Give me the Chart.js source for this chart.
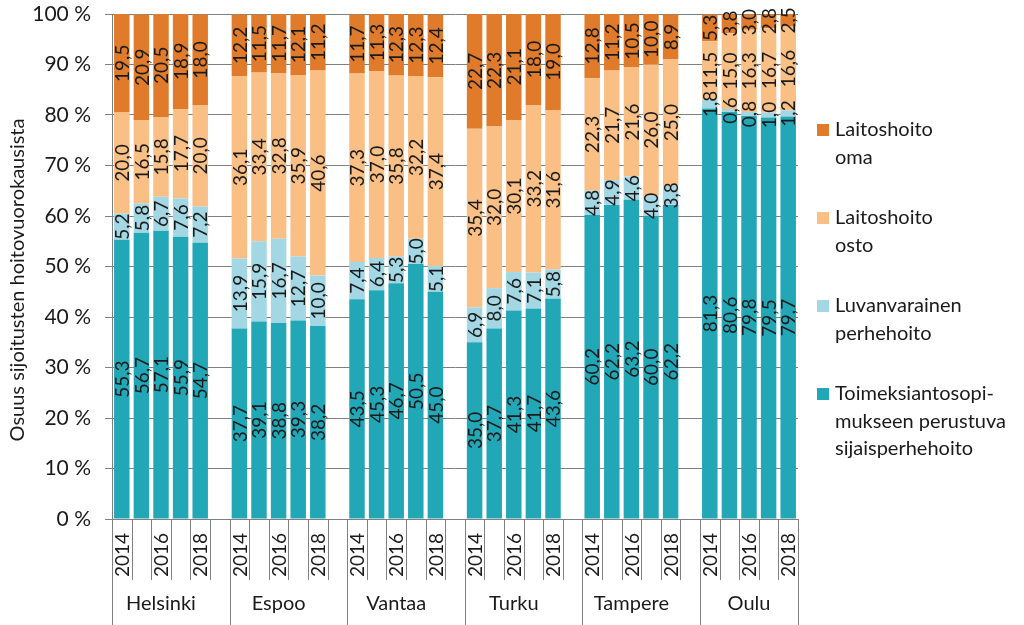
<!DOCTYPE html>
<html>
<head>
<meta charset="utf-8">
<script src="https://cdn.jsdelivr.net/npm/chart.js@4/dist/chart.umd.min.js"></script>
<style>
  html, body { margin: 0; padding: 0; background: #fff; }
  #wrap { width: 1024px; height: 625px; }
</style>
</head>
<body>
<div id="wrap"><canvas id="myChart" width="1024" height="625"></canvas></div>
<script>
// data, city by city, years 2014-2018
const cities = ['Helsinki', 'Espoo', 'Vantaa', 'Turku', 'Tampere', 'Oulu'];
const years = ['2014', '2015', '2016', '2017', '2018'];

const toimeksianto = [55.3, 56.7, 57.1, 55.9, 54.7, 37.7, 39.1, 38.8, 39.3, 38.2, 43.5, 45.3, 46.7, 50.5, 45.0,
    35.0, 37.7, 41.3, 41.7, 43.6, 60.2, 62.2, 63.2, 60.0, 62.2, 81.3, 80.6, 79.8, 79.5, 79.7];
const luvanvarainen = [5.2, 5.8, 6.7, 7.6, 7.2, 13.9, 15.9, 16.7, 12.7, 10.0, 7.4, 6.4, 5.3, 5.0, 5.1,
    6.9, 8.0, 7.6, 7.1, 5.8, 4.8, 4.9, 4.6, 4.0, 3.8, 1.8, 0.6, 0.8, 1.0, 1.2];
const osto = [20.0, 16.5, 15.8, 17.7, 20.0, 36.1, 33.4, 32.8, 35.9, 40.6, 37.3, 37.0, 35.8, 32.2, 37.4,
    35.4, 32.0, 30.1, 33.2, 31.6, 22.3, 21.7, 21.6, 26.0, 25.0, 11.5, 15.0, 16.3, 16.7, 16.6];
const oma = [19.5, 20.9, 20.5, 18.9, 18.0, 12.2, 11.5, 11.7, 12.1, 11.2, 11.7, 11.3, 12.3, 12.3, 12.4,
    22.7, 22.3, 21.1, 18.0, 19.0, 12.8, 11.2, 10.5, 10.0, 8.9, 5.3, 3.8, 3.0, 2.8, 2.5];

const seriesNames = [
    ['Toimeksiantosopi-', 'mukseen perustuva', 'sijaisperhehoito'],
    ['Luvanvarainen', 'perhehoito'],
    ['Laitoshoito', 'osto'],
    ['Laitoshoito', 'oma']
];
const yTitle = 'Osuus sijoitusten hoitovuorokausista';
const colors = ['#22a7b7', '#a3d7e3', '#f9bf85', '#df7b2b'];

const FONT = 'Lato, "Open Sans", sans-serif';
const GRID = '#808080';
const TEXT = '#1a1a1a';

// one slot per year, an empty slot between cities
let labels = [], slotCity = [], slotYear = [];
cities.forEach((c, ci) => {
    years.forEach((y, yi) => { labels.push(c + ' ' + y); slotCity.push(ci); slotYear.push(yi); });
    if (ci < cities.length - 1) { labels.push(''); slotCity.push(ci); slotYear.push(-1); }
});
function toSlots(arr) {
    return slotYear.map((yi, i) => yi < 0 ? null : arr[slotCity[i] * years.length + yi]);
}

const fmt = v => v.toFixed(1).replace('.', ',');

const valueLabels = {
    id: 'valueLabels',
    afterDatasetsDraw(chart) {
        const ctx = chart.ctx;
        ctx.save();
        ctx.font = '19px ' + FONT;
        ctx.fillStyle = TEXT;
        ctx.textAlign = 'center';
        ctx.textBaseline = 'middle';
        chart.data.datasets.forEach((ds, di) => {
            chart.getDatasetMeta(di).data.forEach((bar, i) => {
                const v = ds.data[i];
                if (v === null || v === undefined) return;
                const cy = (bar.y + bar.base) / 2;
                ctx.save();
                ctx.translate(bar.x, cy);
                ctx.rotate(-Math.PI / 2);
                ctx.fillText(fmt(v), 0, 1);
                ctx.restore();
            });
        });
        ctx.restore();
    }
};

const catAxis = {
    id: 'catAxis',
    afterDraw(chart) {
        const ctx = chart.ctx, xs = chart.scales.x, area = chart.chartArea;
        const half = (xs.getPixelForValue(1) - xs.getPixelForValue(0)) / 2;
        const y0 = area.bottom;
        ctx.save();
        ctx.strokeStyle = GRID;
        ctx.lineWidth = 1;
        ctx.beginPath();
        ctx.moveTo(area.left, y0 + 0.5);
        ctx.lineTo(area.right, y0 + 0.5);
        ctx.stroke();
        const n = labels.length;
        for (let i = 0; i <= n; i++) {
            const bx = Math.round(i < n ? xs.getPixelForValue(i) - half : xs.getPixelForValue(n - 1) + half) + 0.5;
            const isGroup = i === n || slotYear[i] === 0;
            ctx.beginPath();
            ctx.moveTo(bx, y0);
            ctx.lineTo(bx, isGroup ? chart.height : y0 + 61);
            ctx.stroke();
        }
        ctx.fillStyle = TEXT;
        ctx.font = '19px ' + FONT;
        ctx.textAlign = 'center';
        ctx.textBaseline = 'middle';
        for (let i = 0; i < n; i++) {
            if (slotYear[i] < 0 || slotYear[i] % 2 !== 0) continue;
            ctx.save();
            ctx.translate(xs.getPixelForValue(i), y0 + 36);
            ctx.rotate(-Math.PI / 2);
            ctx.fillText(years[slotYear[i]], 0, 1);
            ctx.restore();
        }
        ctx.font = '20px ' + FONT;
        cities.forEach((c, ci) => {
            const first = slotCity.indexOf(ci);
            const x1 = xs.getPixelForValue(first) - half;
            const x2 = xs.getPixelForValue(first + years.length - 1) + half;
            ctx.fillText(c, (x1 + x2) / 2, y0 + 85);
        });
        // y axis title
        ctx.save();
        ctx.translate(18, 280);
        ctx.rotate(-Math.PI / 2);
        ctx.fillText(yTitle, 0, 0);
        ctx.restore();
        ctx.restore();
    }
};

const sideLegend = {
    id: 'sideLegend',
    afterDraw(chart) {
        const ctx = chart.ctx;
        ctx.save();
        ctx.font = '20px ' + FONT;
        ctx.textBaseline = 'middle';
        ctx.textAlign = 'left';
        let y = 130;
        for (let s = seriesNames.length - 1; s >= 0; s--) {
            ctx.fillStyle = colors[s];
            ctx.fillRect(817, y - 6, 12, 12);
            ctx.fillStyle = TEXT;
            seriesNames[s].forEach((line, li) => ctx.fillText(line, 835, y + li * 27.5));
            y += 88;
        }
        ctx.restore();
    }
};

const ctx = document.getElementById('myChart');
new Chart(ctx, {
    type: 'bar',
    data: {
        labels: labels,
        datasets: [toimeksianto, luvanvarainen, osto, oma].map((arr, i) => ({
            label: seriesNames[i].join(' '),
            data: toSlots(arr),
            backgroundColor: colors[i],
            borderWidth: 0,
            barPercentage: 0.79,
            categoryPercentage: 1
        }))
    },
    options: {
        responsive: false,
        animation: false,
        layout: { padding: { top: 14, right: 226, left: 0, bottom: 0 } },
        plugins: { legend: { display: false }, tooltip: { enabled: false } },
        scales: {
            x: {
                stacked: true,
                ticks: { display: false },
                grid: { display: false },
                border: { display: false },
                afterFit(scale) { scale.height = 106; }
            },
            y: {
                stacked: true,
                min: 0,
                max: 100,
                ticks: {
                    stepSize: 10,
                    padding: 14,
                    color: TEXT,
                    font: { family: FONT, size: 21 },
                    callback: v => v + ' %'
                },
                grid: { color: GRID, tickLength: 7, lineWidth: 1 },
                border: { color: GRID },
                afterFit(scale) {
                    scale.width = 112;
                    scale.paddingTop = 0;
                    scale.paddingBottom = 0;
                }
            }
        }
    },
    plugins: [valueLabels, catAxis, sideLegend]
});
</script>
</body>
</html>
